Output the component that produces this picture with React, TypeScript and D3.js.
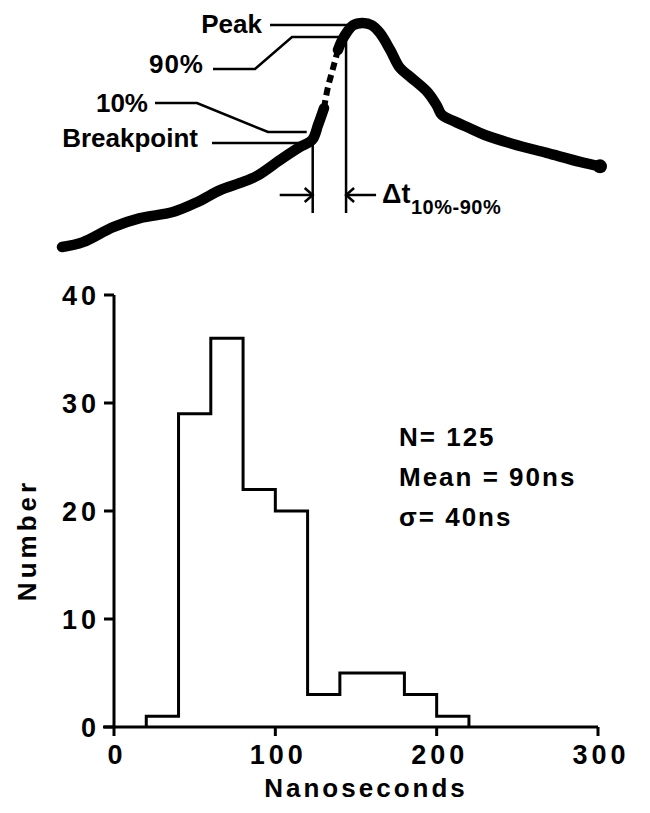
import React from 'react';
import * as d3 from 'd3';

// histogram of 10%-90% rise times
const binEdges = [20, 40, 60, 80, 100, 120, 140, 160, 180, 200, 220];
const binCounts = [1, 29, 36, 22, 20, 3, 5, 5, 3, 1];
const xTicks = [0, 100, 200, 300];
const yTicks = [0, 10, 20, 30, 40];
const statLines = ['N= 125', 'Mean = 90ns', 'σ= 40ns'];

// schematic trace (time in arbitrary units, amplitude normalised to peak)
const traceRise: [number, number][] = [
  [0, 0], [3.9, 0.022], [9.5, 0.089], [14.5, 0.129], [20.6, 0.156], [25.1, 0.2],
  [29.4, 0.254], [33.1, 0.286], [36.2, 0.317], [40.5, 0.388], [44.2, 0.446],
  [46.5, 0.478], [47.6, 0.545], [48.7, 0.62],
];
const traceDashed: [number, number][] = [
  [48.7, 0.62], [49.4, 0.71], [50.4, 0.8], [51.3, 0.88],
];
const traceFall: [number, number][] = [
  [51.3, 0.88], [52.0, 0.92], [53.0, 0.96], [54.1, 0.99], [55.9, 1.0], [57.6, 0.99],
  [59.1, 0.955], [61.0, 0.88], [62.8, 0.8], [64.7, 0.76], [68.0, 0.69], [69.7, 0.63],
  [70.6, 0.59], [73.0, 0.56], [75.8, 0.53], [78.6, 0.5], [83.8, 0.46], [90.1, 0.42],
  [96.3, 0.38], [100, 0.36],
];
const breakT = 46.6;
const ninetyT = 52.8;

const FONT = '"Liberation Sans", Arial, sans-serif';

export default function App() {
  const x = d3.scaleLinear().domain([0, 300]).range([114, 598]);
  const y = d3.scaleLinear().domain([0, 40]).range([727, 295]);

  const tx = d3.scaleLinear().domain([0, 100]).range([62, 600]);
  const ty = d3.scaleLinear().domain([0, 1]).range([247, 23]);

  const stepPts: [number, number][] = [[binEdges[0], 0]];
  binCounts.forEach((c, i) => stepPts.push([binEdges[i], c]));
  stepPts.push([binEdges[binEdges.length - 1], 0]);
  const histPath = d3
    .line<[number, number]>()
    .x((d) => x(d[0]))
    .y((d) => y(d[1]))
    .curve(d3.curveStepAfter)(stepPts);

  const trace = d3
    .line<[number, number]>()
    .x((d) => tx(d[0]))
    .y((d) => ty(d[1]))
    .curve(d3.curveCatmullRom);

  const bx = tx(breakT);
  const nx = tx(ninetyT);
  const arrowY = 195;

  return (
    <svg
      width={650}
      height={813}
      style={{ position: 'absolute', left: 0, top: 0, background: '#fff' }}
      fontFamily={FONT}
      fontWeight="bold"
    >
      {/* top panel: trace */}
      <path d={trace(traceRise) || ''} fill="none" stroke="#000" strokeWidth={10.5} strokeLinecap="round" strokeLinejoin="round" />
      <path d={trace(traceDashed) || ''} fill="none" stroke="#000" strokeWidth={6} strokeDasharray="8 5" />
      <path d={trace(traceFall) || ''} fill="none" stroke="#000" strokeWidth={10.5} strokeLinecap="round" strokeLinejoin="round" />
      <circle cx={tx(100)} cy={ty(0.36)} r={7} fill="#000" />

      {/* leaders */}
      <g stroke="#000" strokeWidth={2.5} fill="none">
        <polyline points={`270,25 ${tx(54)},25`} />
        <polyline points={`213,69 255,69 292,37 ${nx - 5},37`} />
        <polyline points={`155,103 197,103 268,132 ${bx - 6},132`} />
        <polyline points={`212,143 ${bx},143`} />
        <line x1={bx} y1={143} x2={bx} y2={213} />
        <line x1={nx} y1={42} x2={nx} y2={213} />
        <line x1={bx - 33} y1={arrowY} x2={bx} y2={arrowY} />
        <polyline points={`${bx - 8},${arrowY - 7} ${bx},${arrowY} ${bx - 8},${arrowY + 7}`} />
        <line x1={nx + 30} y1={arrowY} x2={nx} y2={arrowY} />
        <polyline points={`${nx + 8},${arrowY - 7} ${nx},${arrowY} ${nx + 8},${arrowY + 7}`} />
      </g>
      <g fontSize={26} textAnchor="end">
        <text x={262} y={33}>Peak</text>
        <text x={204} y={73} letterSpacing={1}>90%</text>
        <text x={148} y={112}>10%</text>
        <text x={198} y={147}>Breakpoint</text>
      </g>
      <text x={382} y={203} fontSize={27}>Δt</text>
      <text x={411} y={214} fontSize={20} letterSpacing={0.5}>10%-90%</text>

      {/* histogram axes */}
      <g stroke="#000" strokeWidth={3} fill="none">
        <line x1={103} y1={y(0)} x2={x(300)} y2={y(0)} />
        <line x1={x(0)} y1={y(0)} x2={x(0)} y2={y(40)} />
        {xTicks.map((t) => (
          <line key={'xt' + t} x1={x(t)} y1={y(0)} x2={x(t)} y2={y(0) + 9} />
        ))}
        {yTicks.map((t) => (
          <line key={'yt' + t} x1={x(0) - 10} y1={y(t)} x2={x(0)} y2={y(t)} />
        ))}
        <path d={histPath || ''} strokeLinejoin="miter" />
      </g>
      <g fontSize={27} letterSpacing={4}>
        {xTicks.map((t) => (
          <text key={'xl' + t} x={x(t) + 3} y={764} textAnchor="middle">{t}</text>
        ))}
        {yTicks.map((t) => (
          <text key={'yl' + t} x={x(0) - 14} y={y(t) + 10} textAnchor="end">{t}</text>
        ))}
      </g>
      <text x={366} y={797} fontSize={26} letterSpacing={3} textAnchor="middle">Nanoseconds</text>
      <text
        transform="translate(36,540) rotate(-90)"
        fontSize={26}
        letterSpacing={4}
        textAnchor="middle"
      >
        Number
      </text>
      <g fontSize={26} letterSpacing={2}>
        {statLines.map((s, i) => (
          <text key={s} x={399} y={446 + i * 40}>{s}</text>
        ))}
      </g>
    </svg>
  );
}
